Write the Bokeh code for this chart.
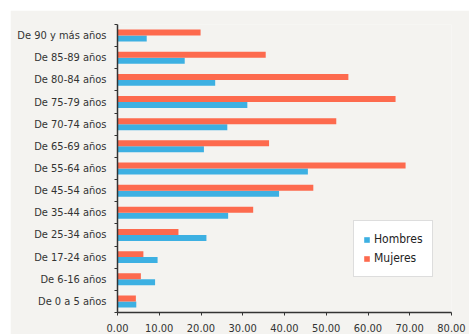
from bokeh.plotting import figure
from bokeh.models import ColumnDataSource, FixedTicker, Legend, LegendItem, NumeralTickFormatter, Range1d
from bokeh.embed import file_html
from bokeh.resources import INLINE

# data, bottom to top
categories = ["De 0 a 5 años", "De 6-16 años", "De 17-24 años", "De 25-34 años",
              "De 35-44 años", "De 45-54 años", "De 55-64 años", "De 65-69 años",
              "De 70-74 años", "De 75-79 años", "De 80-84 años", "De 85-89 años",
              "De 90 y más años"]
hombres = [4.5, 9.0, 9.6, 21.3, 26.5, 38.7, 45.6, 20.7, 26.3, 31.1, 23.4, 16.1, 7.0]
mujeres = [4.4, 5.6, 6.2, 14.6, 32.5, 46.9, 69.0, 36.3, 52.4, 66.6, 55.3, 35.5, 19.9]
x_ticks = [0, 10, 20, 30, 40, 50, 60, 70, 80]

BLUE = "#3db0e2"
RED = "#fd6a4e"
BG = "#f4f3f0"
FONT = "Liberation Sans Narrow, DejaVu Sans Condensed, sans-serif"

n = len(categories)
centers = [i + 0.5 for i in range(n)]
bar_h = 0.27

src_h = ColumnDataSource(dict(y=[c - bar_h / 2 for c in centers], v=hombres))
src_m = ColumnDataSource(dict(y=[c + bar_h / 2 for c in centers], v=mujeres))

p = figure(width=459, height=324, output_backend="svg", toolbar_location=None,
           x_range=Range1d(0, 80), y_range=Range1d(0, n),
           min_border_left=107, min_border_right=18, min_border_top=14, min_border_bottom=21)
p.margin = (10, 0, 0, 10)
p.background_fill_color = BG
p.border_fill_color = BG
p.outline_line_color = None
p.grid.visible = False

r_h = p.hbar(y="y", right="v", left=0, height=bar_h, source=src_h, fill_color=BLUE, line_color=None)
r_m = p.hbar(y="y", right="v", left=0, height=bar_h, source=src_m, fill_color=RED, line_color=None)

# y axis
ya = p.yaxis[0]
ya.ticker = FixedTicker(ticks=centers, minor_ticks=list(range(n + 1)))
ya.major_label_overrides = {c: lab for c, lab in zip(centers, categories)}
ya.major_tick_out = 0
ya.major_tick_in = 0
ya.minor_tick_out = 3
ya.minor_tick_in = 0
ya.minor_tick_line_color = "#333333"
ya.axis_line_color = "#333333"
ya.axis_line_width = 1.5
ya.major_label_text_font = FONT
ya.major_label_text_font_size = "11px"
ya.major_label_text_color = "#333333"
ya.major_label_standoff = 8

# x axis
xa = p.xaxis[0]
xa.ticker = FixedTicker(ticks=x_ticks)
xa.formatter = NumeralTickFormatter(format="0.00")
xa.major_tick_out = 3
xa.major_tick_in = 0
xa.minor_tick_out = 0
xa.minor_tick_in = 0
xa.major_tick_line_color = "#333333"
xa.axis_line_color = "#333333"
xa.axis_line_width = 1.5
xa.major_label_text_font = FONT
xa.major_label_text_font_size = "11px"
xa.major_label_text_color = "#333333"
xa.major_label_standoff = 8

legend = Legend(items=[LegendItem(label="Hombres", renderers=[r_h]),
                       LegendItem(label="Mujeres", renderers=[r_m])],
                location=(236, 35))
legend.background_fill_color = "white"
legend.background_fill_alpha = 1
legend.border_line_color = "#bbbbbb"
legend.label_text_font = FONT
legend.label_text_font_size = "12px"
legend.label_text_color = "#222222"
legend.glyph_width = 7
legend.glyph_height = 7
legend.label_height = 18
legend.label_standoff = 4
legend.spacing = 1
legend.padding = 9
legend.margin = 0
p.add_layout(legend, "center")

open("out.html", "w").write(file_html(p, INLINE))
